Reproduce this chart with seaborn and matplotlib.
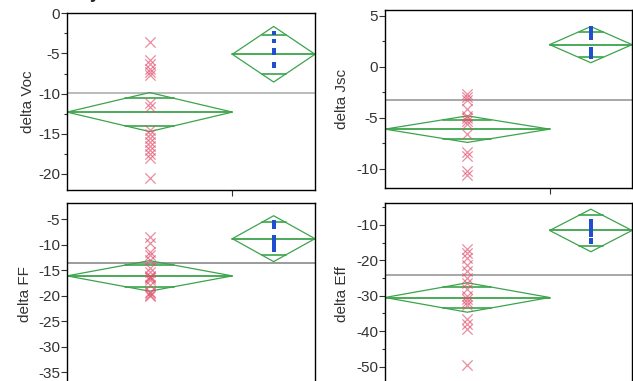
import numpy as np
import matplotlib
matplotlib.use("Agg")
import matplotlib.pyplot as plt
import seaborn as sns
import pandas as pd

# datos (grupo A = cruces rojas, grupo B = cuadrados azules)
voc_a = [-3.6, -5.8, -6.3, -6.9, -7.3, -7.7, -11.2, -11.7, -14.5, -15.0,
         -15.5, -16.0, -16.5, -17.0, -17.5, -18.0, -20.5]
voc_b = [-2.4, -3.4, -4.6, -4.9, -6.3, -6.3, -6.4, -6.5]
jsc_a = [-2.7, -3.0, -3.2, -4.1, -4.8, -5.0, -5.3, -5.6, -6.6, -8.3,
         -8.7, -10.2, -10.6]
jsc_b = [3.8, 3.5, 3.1, 2.8, 1.7, 1.4, 1.2, 1.0]
ff_a = [-8.4, -9.6, -11.4, -12.0, -13.0, -14.6, -15.3, -16.1, -16.3, -16.6,
        -17.0, -17.9, -19.2, -19.5, -19.8, -20.0]
ff_b = [-5.6, -6.1, -6.6, -8.5, -9.0, -9.5, -10.0, -10.5, -11.0]
eff_a = [-16.8, -17.9, -19.3, -21.2, -23.0, -24.9, -26.3, -28.2, -30.0,
         -31.0, -31.9, -32.6, -36.5, -37.9, -39.3, -49.6]
eff_b = [-8.9, -9.5, -10.2, -10.9, -11.6, -12.3, -13.0, -14.3, -14.9]

# medias e intervalo de confianza (semi-ancho) de cada diamante, y media global
voc_medias = [-12.3, -5.1]
voc_ic = [2.43, 3.46]
voc_global = -9.87
jsc_medias = [-6.1, 2.17]
jsc_ic = [1.3, 1.77]
jsc_global = -3.21
ff_medias = [-16.1, -8.8]
ff_ic = [3.0, 4.5]
ff_global = -13.57
eff_medias = [-30.5, -11.6]
eff_ic = [4.15, 6.0]
eff_global = -24.2

# tamano relativo de cada grupo (ancho del diamante)
grupo_n = [2, 1]

VERDE = '#3ba44b'
ROJO = '#e0506e'
AZUL = '#1f4fd0'

sns.set_style('ticks')
plt.rcParams['font.family'] = ['Liberation Sans', 'DejaVu Sans']

W, H = 633, 381
fig = plt.figure(figsize=(W / 100, H / 100), dpi=100)


def ejes(izq, der, arriba, abajo):
    return fig.add_axes([izq / W, 1 - abajo / H, (der - izq) / W, (abajo - arriba) / H])


def panel(ax, datos_a, datos_b, medias, ic, media_global, etiqueta, ylim,
          mayor, menor, gris, xlab):
    bordes = np.concatenate([[0], np.cumsum(grupo_n)])
    centros = (bordes[:-1] + bordes[1:]) / 2

    # linea de media global
    ax.axhline(media_global, color=gris, lw=1.1, zorder=1)

    # diamantes de medias
    for i in range(len(medias)):
        x0, x1, xc = bordes[i], bordes[i + 1], centros[i]
        m, h = medias[i], ic[i]
        ax.plot([x0, xc, x1, xc, x0], [m, m + h, m, m - h, m], color=VERDE, lw=0.9, zorder=2)
        ax.plot([x0, x1], [m, m], color=VERDE, lw=1.3, zorder=2)
        d = h / np.sqrt(2)
        w = (x1 - x0) / 2 * (1 - 1 / np.sqrt(2))
        for s in (1, -1):
            ax.plot([xc - w, xc + w], [m + s * d, m + s * d], color=VERDE, lw=1.2, zorder=2)

    df_a = pd.DataFrame({'x': centros[0], 'y': datos_a})
    df_b = pd.DataFrame({'x': centros[1], 'y': datos_b})
    sns.scatterplot(data=df_a, x='x', y='y', ax=ax, marker='x', color=ROJO,
                    s=55, linewidth=0.9, alpha=0.65, zorder=3)
    sns.scatterplot(data=df_b, x='x', y='y', ax=ax, marker='s', color=AZUL,
                    s=10, linewidth=0, zorder=4)

    ax.set_xlim(bordes[0], bordes[-1])
    ax.set_ylim(*ylim)
    ax.set_xticks([bordes[1]])
    ax.set_xticklabels([])
    ax.set_xlabel('')
    ax.set_yticks(mayor)
    ax.set_yticklabels([f'{v:g}' for v in mayor])
    if menor is not None:
        ax.set_yticks(menor, minor=True)
    ax.tick_params(axis='y', which='major', length=4, width=0.8, pad=1,
                   labelsize=11, labelcolor='#333333', color='#333333')
    ax.tick_params(axis='y', which='minor', length=2.5, width=0.8, color='#333333')
    ax.tick_params(axis='x', length=4, width=0.8, color='#333333')
    ax.set_ylabel(etiqueta, fontsize=11, color='#333333', va='center')
    ax.yaxis.set_label_coords(xlab, 0.5)
    for sp in ax.spines.values():
        sp.set_visible(True)
        sp.set_color('black')
        sp.set_linewidth(1.0)


ax1 = ejes(67, 315, 13.3, 190)
panel(ax1, voc_a, voc_b, voc_medias, voc_ic, voc_global, 'delta Voc', (-22, 0),
      [0, -5, -10, -15, -20], np.arange(-20, 0, 2.5), '#a8a8a8', -0.157)

ax2 = ejes(385, 632, 10, 188)
panel(ax2, jsc_a, jsc_b, jsc_medias, jsc_ic, jsc_global, 'delta Jsc', (-11.86, 5.56),
      [5, 0, -5, -10], np.arange(-10, 5.1, 2.5), '#909090', -0.174)

ax3 = ejes(67, 315, 203.3, 385)
panel(ax3, ff_a, ff_b, ff_medias, ff_ic, ff_global, 'delta FF', (-37.5, -1.86),
      [-5, -10, -15, -20, -25, -30, -35], None, '#808080', -0.169)

ax4 = ejes(385, 632, 203.3, 384.4)
panel(ax4, eff_a, eff_b, eff_medias, eff_ic, eff_global, 'delta Eff', (-54.5, -3.94),
      [-10, -20, -30, -40, -50], np.arange(-55, -4, 5), '#909090', -0.176)

# resto del titulo recortado arriba
fig.text(100 / W, 1 + 1.5 / H, 'Oneway', ha='right', va='baseline',
         fontsize=13, fontweight='bold', color='#222222')

fig.savefig('out.png', dpi=100)
